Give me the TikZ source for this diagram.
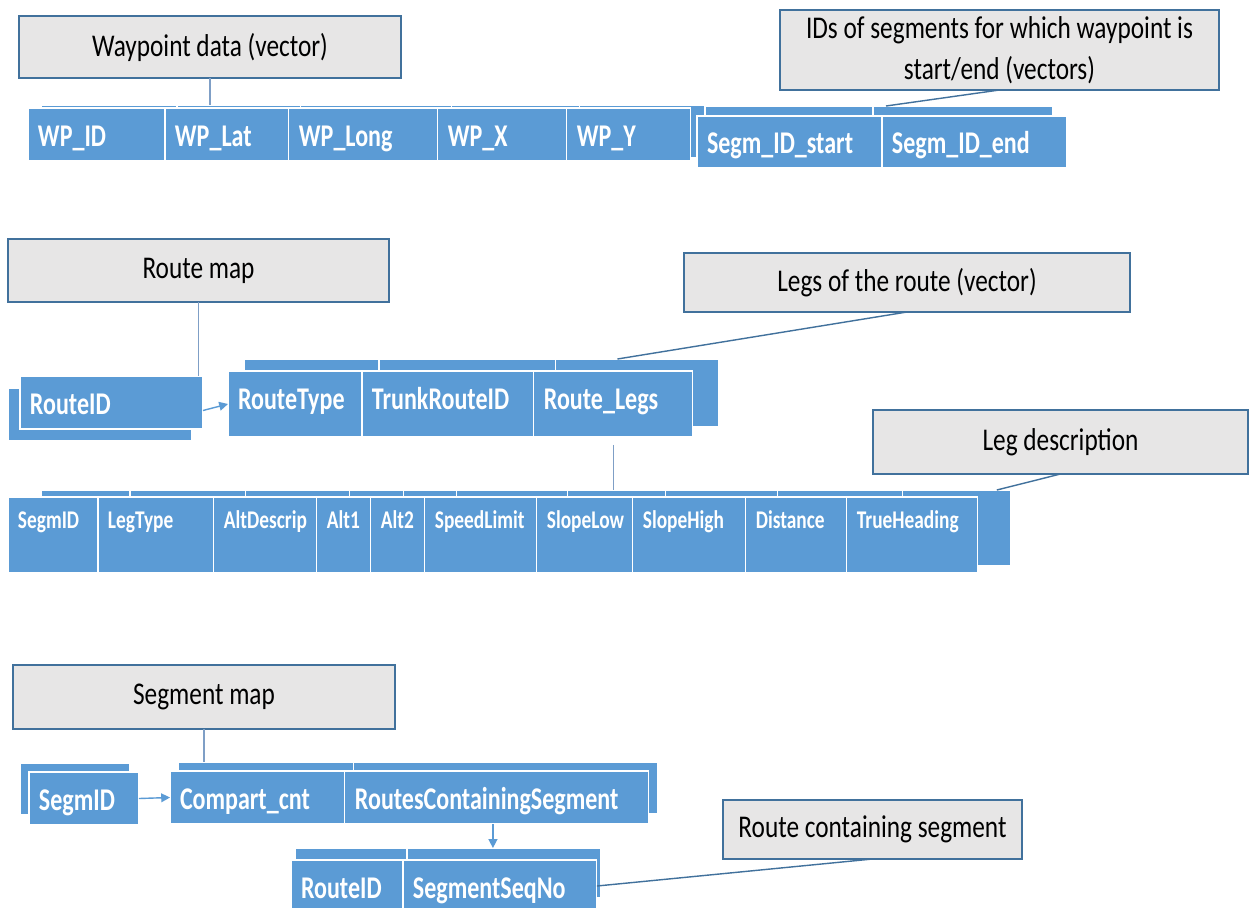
\documentclass[tikz,border=0pt]{standalone}
\usepackage{fontspec}
\usepackage{tikz}
\usetikzlibrary{positioning, arrows.meta}
\newfontfamily\boxfont[FakeStretch=0.76]{Carlito}
\newfontfamily\labelfont[FakeStretch=0.8]{Carlito}
\definecolor{cellblue}{HTML}{5B9BD5}
\definecolor{boxgrey}{HTML}{E7E6E6}
\definecolor{boxline}{HTML}{41719C}
\definecolor{linkblue}{HTML}{41719C}
\definecolor{linklight}{HTML}{7F9FC6}
\tikzset{
  labelbox/.style={rectangle, draw=boxline, fill=boxgrey, line width=0.7pt, inner sep=0pt, outer sep=0pt, align=center, font=\labelfont\fontsize{18}{23.5}\selectfont},
  field/.style={rectangle, draw=white, fill=cellblue, line width=0.6pt, text=white, inner xsep=0.2cm, inner ysep=0pt, outer sep=0pt, align=left, text height=0.76cm, font=\boxfont\bfseries\fontsize{18}{22}\selectfont},
  smallfield/.style={field, text height=0.62cm, text depth=0.9cm, font=\boxfont\bfseries\fontsize{14.5}{17}\selectfont},
  backfield/.style={rectangle, draw=white, fill=cellblue, line width=0.6pt, inner sep=0pt, outer sep=0pt},
  link/.style={draw=linkblue, line width=0.8pt},
  linkv/.style={draw=linklight, line width=0.8pt},
  arrow/.style={draw=cellblue, line width=0.8pt, -{Triangle[length=5pt,width=5pt]}}
}
\begin{document}
\begin{tikzpicture}[x=0.02cm, y=-0.02cm, node distance=0pt]
    \fill[white] (0,0) rectangle (1250,907);
    \useasboundingbox (0,0) rectangle (1250,907);

    % Waypoint data
    \node (wpbox) [labelbox, minimum width=7.64cm, minimum height=1.24cm] at (210,47) {Waypoint data (vector)};
    \node (idsbox) [labelbox, minimum width=8.78cm, minimum height=1.6cm] at (999.5,50) {IDs of segments for which waypoint is\\start/end (vectors)};

    \node (wpidb) [backfield, anchor=north west, minimum width=2.72cm, minimum height=1.06cm] at (41,105) {};
    \node (wplatb) [backfield, right=of wpidb, minimum width=2.48cm, minimum height=1.06cm] {};
    \node (wplongb) [backfield, right=of wplatb, minimum width=3.02cm, minimum height=1.06cm] {};
    \node (wpxb) [backfield, right=of wplongb, minimum width=2.56cm, minimum height=1.06cm] {};
    \node (wpyb) [backfield, right=of wpxb, minimum width=2.5cm, minimum height=1.06cm] {};
    \node (segstartb) [backfield, anchor=north west, minimum width=3.36cm, minimum height=1.04cm] at (705,106) {};
    \node (segendb) [backfield, right=of segstartb, minimum width=3.6cm, minimum height=1.04cm] {};

    \node (wpid) [field, anchor=north west, text width=2.34cm, text depth=0.3cm] at (28,108) {WP\_ID};
    \node (wplat) [field, right=of wpid, text width=2.08cm, text depth=0.3cm] {WP\_Lat};
    \node (wplong) [field, right=of wplat, text width=2.58cm, text depth=0.3cm] {WP\_Long};
    \node (wpx) [field, right=of wplong, text width=2.18cm, text depth=0.3cm] {WP\_X};
    \node (wpy) [field, right=of wpx, text width=2.08cm, text depth=0.3cm] {WP\_Y};
    \node (segstart) [field, anchor=north west, text width=3.3cm, text depth=0.28cm] at (697,116) {Segm\_ID\_start};
    \node (segend) [field, right=of segstart, text width=3.3cm, text depth=0.28cm] {Segm\_ID\_end};

    \draw [linkv] (wpbox.south) -- (wpbox.south |- wplatb.north);
    \draw [link] (idsbox.south) -- ([xshift=0.26cm]segendb.north west);

    % Route map
    \node (routebox) [labelbox, minimum width=7.62cm, minimum height=1.26cm] at (198.5,270.5) {Route map};
    \node (legsbox) [labelbox, minimum width=8.92cm, minimum height=1.18cm] at (907,282.5) {Legs of the route (vector)};

    \node (ridb) [backfield, anchor=north west, minimum width=3.68cm, minimum height=1.06cm] at (8,388) {};
    \node (rid) [field, anchor=north west, text width=3.26cm, text depth=0.3cm] at (20,376) {RouteID};

    \node (rtypeb) [backfield, anchor=north west, minimum width=2.7cm, minimum height=1.36cm] at (244,359) {};
    \node (trunkb) [backfield, right=of rtypeb, minimum width=3.54cm, minimum height=1.36cm] {};
    \node (rlegsb) [backfield, right=of trunkb, minimum width=3.26cm, minimum height=1.36cm] {};
    \node (rtype) [field, anchor=north west, text width=2.28cm, text depth=0.56cm] at (228,371) {RouteType};
    \node (trunk) [field, right=of rtype, text width=3.04cm, text depth=0.56cm] {TrunkRouteID};
    \node (rlegs) [field, right=of trunk, text width=2.78cm, text depth=0.56cm] {Route\_Legs};

    \draw [linkv] (routebox.south) -- (routebox.south |- rid.north);
    \draw [arrow] ([yshift=-0.16cm]rid.east) -- (rtype.west);
    \draw [link] (legsbox.south) -- ([xshift=-0.4cm]rlegsb.north);

    % Leg description
    \node (legdescbox) [labelbox, minimum width=7.5cm, minimum height=1.28cm] at (1060.5,442) {Leg description};

    \node (lb1) [backfield, anchor=north west, minimum width=1.78cm, minimum height=1.52cm] at (41,490) {};
    \node (lb2) [backfield, right=of lb1, minimum width=2.32cm, minimum height=1.52cm] {};
    \node (lb3) [backfield, right=of lb2, minimum width=2.08cm, minimum height=1.52cm] {};
    \node (lb4) [backfield, right=of lb3, minimum width=1.08cm, minimum height=1.52cm] {};
    \node (lb5) [backfield, right=of lb4, minimum width=1.06cm, minimum height=1.52cm] {};
    \node (lb6) [backfield, right=of lb5, minimum width=2.22cm, minimum height=1.52cm] {};
    \node (lb7) [backfield, right=of lb6, minimum width=1.96cm, minimum height=1.52cm] {};
    \node (lb8) [backfield, right=of lb7, minimum width=2.24cm, minimum height=1.52cm] {};
    \node (lb9) [backfield, right=of lb8, minimum width=2.5cm, minimum height=1.52cm] {};
    \node (lb10) [backfield, right=of lb9, minimum width=2.16cm, minimum height=1.52cm] {};

    \node (lsegm) [smallfield, anchor=north west, text width=1.4cm] at (8,497) {SegmID};
    \node (ltype) [smallfield, right=of lsegm, text width=1.92cm] {LegType};
    \node (lalt) [smallfield, right=of ltype, text width=1.66cm] {AltDescrip};
    \node (lalt1) [smallfield, right=of lalt, text width=0.68cm] {Alt1};
    \node (lalt2) [smallfield, right=of lalt1, text width=0.68cm] {Alt2};
    \node (lspeed) [smallfield, right=of lalt2, text width=1.84cm] {SpeedLimit};
    \node (lslow) [smallfield, right=of lspeed, text width=1.52cm] {SlopeLow};
    \node (lshigh) [smallfield, right=of lslow, text width=1.86cm] {SlopeHigh};
    \node (ldist) [smallfield, right=of lshigh, text width=1.62cm] {Distance};
    \node (lhead) [smallfield, right=of ldist, text width=2.22cm] {TrueHeading};

    \draw [linkv] ([yshift=-0.16cm]rlegs.south) -- (rlegs.south |- lb7.north);
    \draw [link] (legdescbox.south) -- ([xshift=-0.28cm]lb10.north east);

    % Segment map
    \node (segbox) [labelbox, minimum width=7.64cm, minimum height=1.28cm] at (204,697) {Segment map};
    \node (rcbox) [labelbox, minimum width=5.98cm, minimum height=1.18cm] at (872.5,829.5) {Route containing segment};

    \node (sidb) [backfield, anchor=north west, minimum width=2.2cm, minimum height=1.04cm] at (20,763) {};
    \node (sid) [field, anchor=north west, text width=1.8cm, text depth=0.3cm] at (29,772) {SegmID};

    \node (compb) [backfield, anchor=north west, minimum width=3.52cm, minimum height=1.04cm] at (178,762) {};
    \node (rcontb) [backfield, right=of compb, minimum width=6.08cm, minimum height=1.04cm] {};
    \node (comp) [field, anchor=north west, text width=3.1cm, text depth=0.3cm] at (170,771) {Compart\_cnt};
    \node (rcont) [field, right=of comp, text width=5.68cm, text depth=0.3cm] {RoutesContainingSegment};

    \node (rid2b) [backfield, anchor=north west, minimum width=2.24cm, minimum height=1cm] at (295,848) {};
    \node (seqnob) [backfield, right=of rid2b, minimum width=3.88cm, minimum height=1cm] {};
    \node (rid2) [field, anchor=north west, text width=1.84cm, text depth=0.28cm] at (291,860) {RouteID};
    \node (seqno) [field, right=of rid2, text width=3.48cm, text depth=0.28cm] {SegmentSeqNo};

    \draw [linkv] (segbox.south) -- (segbox.south |- compb.north);
    \draw [arrow] (sid.east) -- (comp.west);
    \draw [arrow] ([xshift=-0.08cm]rcont.south) -- ([xshift=-0.08cm]rcont.south |- seqnob.north);
    \draw [link] (seqno.east) -- (rcbox.south);
\end{tikzpicture}
\end{document}
